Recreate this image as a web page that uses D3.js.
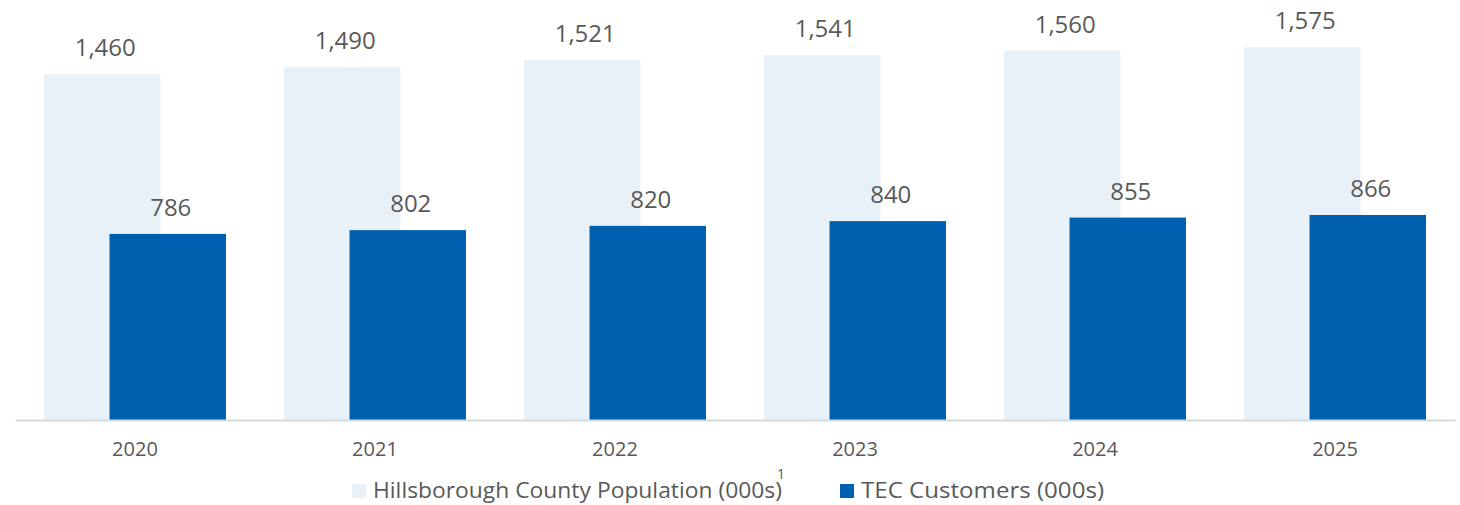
<!DOCTYPE html>
<head>
  <meta charset="utf-8">
  <title>Hillsborough County Population vs TEC Customers</title>
  <script src="https://d3js.org/d3.v7.min.js"></script>
  <style>
    body { margin: 0; background: #fff; }
    text { font-family: "Open Sans", sans-serif; fill: #595959; }
  </style>
</head>
<body>
<div id="chart"></div>
<script>
// ---------------- DATA ----------------
var years = ["2020", "2021", "2022", "2023", "2024", "2025"];
var population = [1460, 1490, 1521, 1541, 1560, 1575];
var customers = [786, 802, 820, 840, 855, 866];
var seriesNames = ["Hillsborough County Population (000s)", "TEC Customers (000s)"];
var colors = ["#e9f1f8", "#0060b0"];

// ---------------- SVG ----------------
var width = 1460, height = 505;
var axisY = 420;

var svg = d3.select("#chart").append("svg")
    .attr("width", width)
    .attr("height", height);

var x = d3.scaleBand()
    .domain(years)
    .range([15, 1455])
    .paddingInner(0.2417)
    .paddingOuter(0.1208);

var y = d3.scaleLinear().domain([0, 1774]).range([axisY, 0]);

var barW = x.bandwidth() * 0.64;
var offset = x.bandwidth() - barW;

var fmt = d3.format(",");

// light bars (population)
svg.selectAll(".pop")
    .data(years)
    .enter().append("rect")
    .attr("class", "pop")
    .attr("x", function(d) { return x(d); })
    .attr("y", function(d, i) { return y(population[i]); })
    .attr("width", barW)
    .attr("height", function(d, i) { return axisY - y(population[i]); })
    .attr("fill", colors[0]);

// dark bars (customers)
svg.selectAll(".cust")
    .data(years)
    .enter().append("rect")
    .attr("class", "cust")
    .attr("x", function(d) { return x(d) + offset; })
    .attr("y", function(d, i) { return y(customers[i]); })
    .attr("width", barW)
    .attr("height", function(d, i) { return axisY - y(customers[i]); })
    .attr("fill", colors[1]);

// value labels
svg.selectAll(".popLabel")
    .data(years)
    .enter().append("text")
    .attr("x", function(d) { return x(d) + barW / 2 + 3; })
    .attr("y", function(d, i) { return y(population[i]) - 18; })
    .attr("text-anchor", "middle")
    .style("font-size", "24px")
    .text(function(d, i) { return fmt(population[i]); });

svg.selectAll(".custLabel")
    .data(years)
    .enter().append("text")
    .attr("x", function(d) { return x(d) + offset + barW / 2 + 3; })
    .attr("y", function(d, i) { return y(customers[i]) - 18; })
    .attr("text-anchor", "middle")
    .style("font-size", "24px")
    .text(function(d, i) { return fmt(customers[i]); });

// x axis
var xAxis = d3.axisBottom(x).tickSize(0).tickPadding(22);
var gx = svg.append("g")
    .attr("transform", "translate(0," + axisY + ")")
    .call(xAxis);
gx.select(".domain").attr("stroke", "#d9d9d9").attr("stroke-width", 2);
gx.selectAll("text")
    .style("font-size", "20px")
    .style("font-family", "'Open Sans', sans-serif")
    .attr("fill", "#595959");

// legend
var legend = svg.append("g");
var legendX = [352, 840];
var legendW = [409, 243];
seriesNames.forEach(function(name, i) {
    legend.append("rect")
        .attr("x", legendX[i])
        .attr("y", 484)
        .attr("width", 14)
        .attr("height", 14)
        .attr("fill", colors[i]);
    legend.append("text")
        .attr("x", legendX[i] + 21)
        .attr("y", 498)
        .attr("textLength", legendW[i])
        .attr("lengthAdjust", "spacingAndGlyphs")
        .style("font-size", "22px")
        .text(name);
});
// footnote marker
legend.append("text")
    .attr("x", 777)
    .attr("y", 479)
    .style("font-size", "14px")
    .text("1");
</script>
</body>
